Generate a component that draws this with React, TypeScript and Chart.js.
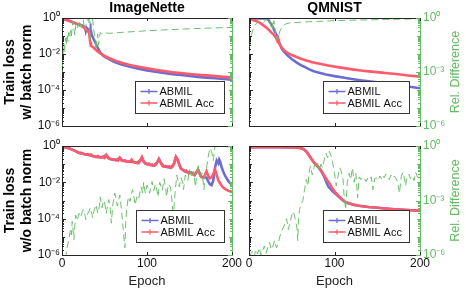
import React, { useEffect, useRef } from "react";
import { Chart, registerables } from "chart.js";
Chart.register(...registerables);

type Pt = [number, number]; // [epoch, log10(value)]

// ---------- DATA (stored as [epoch, log10 value]) ----------
const EPOCH_TICKS = [0, 100, 200];
const LOSS_TICK_EXP = [0, -2, -4, -6];
const REL_TICK_EXP = [0, -3, -6];
const SERIES_NAMES = ["ABMIL", "ABMIL Acc"];
const PANEL_TITLES = ["ImageNette", "QMNIST"];
const ROW_LABELS = [["Train loss", "w/ batch norm"], ["Train loss", "w/o batch norm"]];

// ImageNette, with batch norm
const inBnAbmil: Pt[] = [[0,-0.04],[4,-0.08],[8,-0.15],[12,-0.22],[16,-0.3],[20,-0.36],[23,-0.4],[25,-0.45],[27,-0.52],[28,-0.72],[29,-0.55],[30,-0.6],[32,-0.75],[33,-0.8],[34,-0.72],[35,-0.95],[37,-1.15],[39,-1.35],[41,-1.55],[43,-1.75],[45,-1.92],[48,-2.08],[52,-2.2],[56,-2.3],[60,-2.4],[65,-2.5],[70,-2.58],[80,-2.71],[90,-2.82],[100,-2.91],[110,-2.99],[120,-3.06],[130,-3.12],[140,-3.17],[150,-3.22],[160,-3.27],[170,-3.31],[180,-3.35],[190,-3.39],[200,-3.43]];
const inBnAcc: Pt[] = [[0,-0.04],[4,-0.09],[8,-0.15],[12,-0.22],[16,-0.3],[20,-0.38],[24,-0.48],[27,-0.58],[30,-0.72],[32,-0.82],[33,-1.3],[34,-1.55],[36,-1.6],[38,-1.68],[40,-1.78],[43,-1.9],[46,-2.0],[50,-2.1],[55,-2.22],[60,-2.32],[65,-2.41],[70,-2.49],[80,-2.61],[90,-2.71],[100,-2.8],[110,-2.88],[120,-2.95],[130,-3.01],[140,-3.06],[150,-3.11],[160,-3.15],[170,-3.19],[180,-3.23],[190,-3.27],[200,-3.3]];
const inBnRel: Pt[] = [[0,-3.3],[1,-2.3],[2,-1.4],[3,-1.9],[4,-1.1],[5,-1.5],[6,-0.9],[7,-1.3],[8,-0.8],[9,-1.1],[10,-0.7],[11,-1.0],[12,-0.45],[13,-0.2],[14,-0.6],[15,-0.95],[16,-0.5],[17,-0.3],[18,-0.55],[20,-0.3],[21,-0.15],[22,-0.5],[24,-0.35],[25,-0.1],[26,-0.45],[27,-0.7],[28,-0.4],[30,-0.15],[31,-0.02],[32,-0.35],[33,-1.2],[34,-0.7],[35,-0.3],[36,-0.05],[37,-0.5],[38,-0.9],[39,-1.3],[40,-1.75],[41,-1.2],[42,-0.9],[43,-1.5],[44,-1.1],[45,-0.8],[47,-0.9],[50,-0.82],[55,-0.85],[60,-0.84],[70,-0.8],[80,-0.77],[90,-0.74],[100,-0.71],[120,-0.66],[140,-0.62],[160,-0.58],[180,-0.55],[200,-0.52]];

// QMNIST, with batch norm
const qmBnAbmil: Pt[] = [[0,-0.02],[5,-0.02],[10,-0.02],[15,-0.02],[20,-0.03],[22,-0.06],[24,-0.2],[26,-0.35],[28,-0.52],[30,-0.72],[32,-0.95],[34,-1.2],[36,-1.45],[38,-1.68],[40,-1.82],[43,-1.98],[46,-2.12],[50,-2.28],[55,-2.45],[60,-2.6],[65,-2.72],[70,-2.84],[75,-2.94],[80,-3.02],[90,-3.14],[100,-3.23],[110,-3.31],[120,-3.39],[130,-3.46],[140,-3.52],[150,-3.57],[160,-3.63],[170,-3.69],[180,-3.76],[190,-3.83],[200,-3.9]];
const qmBnAcc: Pt[] = [[0,-0.04],[4,-0.1],[8,-0.17],[12,-0.24],[16,-0.38],[20,-0.52],[24,-0.7],[28,-0.89],[30,-1.0],[32,-1.12],[33,-1.25],[34,-1.15],[35,-1.4],[37,-1.55],[39,-1.69],[42,-1.84],[45,-1.94],[50,-2.06],[55,-2.15],[60,-2.25],[67,-2.36],[74,-2.46],[84,-2.56],[94,-2.65],[104,-2.73],[113,-2.8],[123,-2.87],[133,-2.93],[143,-2.98],[152,-3.02],[162,-3.07],[172,-3.11],[186,-3.19],[200,-3.26]];
const qmBnRel: Pt[] = [[0,-2.2],[1,-1.6],[2,-1.2],[3,-0.9],[5,-0.6],[7,-0.4],[9,-0.3],[11,-0.22],[13,-0.18],[15,-0.15],[17,-0.25],[19,-0.12],[21,-0.1],[23,-0.2],[24,-0.08],[25,-0.3],[26,-0.5],[27,-0.25],[28,-0.6],[29,-0.15],[30,-0.4],[31,-0.9],[32,-1.2],[33,-1.0],[34,-1.15],[35,-0.9],[36,-0.75],[38,-0.55],[40,-0.42],[43,-0.33],[47,-0.28],[55,-0.25],[65,-0.22],[80,-0.19],[100,-0.15],[120,-0.12],[140,-0.1],[160,-0.08],[180,-0.06],[200,-0.04]];

// ImageNette, without batch norm
const inNoAbmil: Pt[] = [[0,-0.05],[4,-0.07],[8,-0.12],[12,-0.2],[16,-0.28],[20,-0.38],[24,-0.42],[28,-0.47],[32,-0.5],[36,-0.55],[40,-0.6],[44,-0.62],[48,-0.6],[52,-0.5],[56,-0.7],[60,-0.75],[64,-0.78],[68,-0.65],[72,-0.82],[76,-0.85],[80,-0.87],[84,-0.88],[88,-0.93],[92,-0.8],[94,-0.62],[96,-0.85],[100,-1.0],[104,-1.05],[108,-1.08],[112,-0.9],[114,-0.72],[116,-0.9],[120,-1.13],[124,-1.16],[128,-1.2],[132,-0.95],[134,-0.6],[136,-0.75],[140,-1.25],[144,-1.38],[148,-1.45],[152,-1.45],[156,-1.6],[160,-1.3],[164,-1.7],[166,-1.75],[168,-1.7],[170,-1.75],[172,-1.95],[174,-2.1],[176,-2.15],[178,-1.9],[180,-1.2],[182,-0.8],[184,-0.95],[185,-0.75],[186,-0.85],[188,-1.2],[190,-1.45],[192,-1.65],[194,-1.8],[196,-1.95],[198,-2.05],[200,-2.13]];
const inNoAcc: Pt[] = [[0,-0.05],[3,-0.07],[5,-0.08],[8,-0.12],[10,-0.16],[12,-0.2],[14,-0.24],[16,-0.28],[18,-0.33],[20,-0.38],[22,-0.36],[24,-0.42],[26,-0.44],[28,-0.47],[30,-0.45],[32,-0.5],[34,-0.47],[36,-0.55],[38,-0.57],[40,-0.6],[42,-0.55],[44,-0.62],[46,-0.64],[48,-0.6],[50,-0.66],[52,-0.5],[54,-0.66],[56,-0.7],[58,-0.72],[60,-0.75],[62,-0.73],[64,-0.78],[66,-0.8],[68,-0.65],[70,-0.8],[72,-0.82],[74,-0.78],[76,-0.85],[78,-0.84],[80,-0.87],[82,-0.75],[84,-0.88],[86,-0.9],[88,-0.93],[90,-0.95],[92,-0.8],[94,-0.62],[96,-0.85],[98,-0.98],[100,-1.0],[102,-0.96],[104,-1.05],[106,-1.02],[108,-1.08],[110,-1.05],[112,-0.9],[114,-0.72],[116,-0.9],[118,-1.1],[120,-1.13],[122,-1.1],[124,-1.16],[126,-1.12],[128,-1.2],[130,-1.15],[132,-0.95],[134,-0.6],[136,-0.75],[138,-1.05],[140,-1.25],[142,-1.3],[144,-1.38],[146,-1.35],[148,-1.45],[150,-1.5],[152,-1.45],[154,-1.55],[156,-1.6],[158,-1.45],[160,-1.3],[162,-1.55],[164,-1.7],[166,-1.75],[168,-1.6],[170,-1.4],[172,-1.65],[174,-1.78],[176,-1.72],[178,-1.55],[180,-1.3],[182,-1.6],[184,-1.9],[186,-2.05],[188,-2.2],[190,-2.3],[193,-2.4],[196,-2.47],[200,-2.53]];
const inNoRel: Pt[] = [[3,-6.2],[5,-5.95],[6,-5.6],[8,-5.15],[10,-4.6],[11,-4.9],[12,-4.15],[14,-5.15],[16,-3.8],[18,-4.1],[20,-3.7],[22,-3.9],[24,-3.6],[25,-3.5],[27,-3.8],[28,-4.05],[30,-3.75],[32,-3.55],[33,-3.4],[35,-3.7],[36,-3.95],[38,-3.5],[40,-3.23],[42,-3.7],[44,-3.3],[45,-2.8],[47,-3.4],[49,-3.0],[50,-3.05],[52,-3.7],[54,-3.2],[55,-2.95],[57,-3.5],[58,-4.25],[60,-3.15],[62,-2.6],[64,-3.0],[65,-3.3],[67,-2.9],[68,-2.7],[70,-3.5],[72,-4.6],[74,-5.6],[75,-4.2],[76,-3.5],[78,-2.8],[80,-3.05],[82,-2.6],[83,-2.4],[85,-2.9],[86,-3.25],[88,-2.8],[90,-2.95],[92,-2.5],[93,-2.25],[95,-2.6],[96,-2.0],[98,-2.6],[100,-2.15],[102,-2.4],[103,-2.6],[105,-2.2],[106,-1.95],[108,-2.45],[110,-2.1],[112,-2.5],[113,-2.8],[115,-2.0],[117,-2.3],[118,-2.45],[120,-1.8],[122,-2.3],[123,-2.8],[125,-2.1],[127,-2.2],[128,-2.4],[130,-3.3],[131,-4.3],[132,-3.2],[133,-2.6],[135,-1.6],[137,-2.0],[138,-2.25],[140,-1.75],[142,-2.0],[143,-2.4],[145,-1.6],[147,-1.8],[148,-1.9],[150,-1.3],[152,-1.6],[153,-1.75],[155,-1.4],[157,-2.25],[158,-1.8],[160,-1.0],[162,-1.7],[163,-1.5],[165,-1.5],[167,-2.4],[168,-1.75],[170,-1.2],[172,-0.6],[174,-0.12],[176,-0.3],[178,-0.8],[179,-0.4],[180,-0.02],[182,0],[185,0],[188,-0.02],[190,0],[193,-0.03],[196,-0.06],[200,-0.1]];

// QMNIST, without batch norm
const qmNoAbmil: Pt[] = [[0,-0.07],[20,-0.07],[40,-0.07],[55,-0.09],[60,-0.11],[63,-0.15],[65,-0.22],[67,-0.3],[69,-0.43],[71,-0.58],[73,-0.72],[75,-0.85],[77,-0.97],[79,-1.07],[81,-1.17],[83,-1.28],[85,-1.43],[87,-1.6],[89,-1.8],[91,-2.05],[93,-2.25],[95,-2.35],[97,-2.45],[99,-2.55],[101,-2.62],[104,-2.75],[107,-2.88],[110,-3.0],[113,-3.1],[118,-3.18],[123,-3.24],[130,-3.3],[140,-3.36],[150,-3.4],[160,-3.44],[170,-3.48],[180,-3.51],[190,-3.54],[200,-3.56]];
const qmNoAcc: Pt[] = [[0,-0.07],[10,-0.07],[20,-0.07],[30,-0.07],[40,-0.07],[50,-0.08],[55,-0.09],[60,-0.11],[63,-0.15],[65,-0.22],[67,-0.29],[69,-0.42],[71,-0.57],[73,-0.7],[75,-0.84],[77,-0.95],[79,-1.05],[81,-1.15],[83,-1.25],[85,-1.4],[87,-1.55],[89,-1.7],[91,-1.85],[93,-2.0],[95,-2.12],[97,-2.3],[99,-2.42],[101,-2.55],[104,-2.7],[107,-2.85],[110,-2.98],[113,-3.08],[118,-3.17],[123,-3.23],[128,-3.28],[133,-3.32],[140,-3.36],[150,-3.4],[160,-3.44],[170,-3.48],[180,-3.51],[190,-3.54],[200,-3.56]];
const qmNoRel: Pt[] = [[0,-6.1],[4,-5.8],[6,-6.1],[8,-5.7],[10,-5.95],[12,-5.6],[14,-6.0],[16,-5.75],[18,-5.5],[20,-5.9],[22,-5.6],[24,-5.3],[26,-5.7],[28,-5.5],[30,-5.2],[32,-5.6],[34,-5.4],[36,-5.0],[38,-4.7],[40,-4.5],[42,-4.3],[44,-4.0],[46,-4.6],[48,-4.2],[50,-3.8],[52,-3.6],[54,-4.0],[56,-4.5],[57,-5.2],[58,-4.0],[59,-3.5],[61,-3.2],[63,-3.0],[65,-2.4],[67,-1.85],[69,-2.2],[70,-1.5],[72,-1.1],[74,-1.6],[76,-1.2],[78,-0.9],[80,-0.84],[82,-1.35],[84,-1.0],[86,-1.2],[88,-0.75],[90,-0.39],[92,-0.65],[94,-0.29],[96,-0.55],[98,-0.95],[100,-1.5],[102,-2.2],[104,-1.7],[106,-1.2],[108,-1.4],[110,-1.85],[111,-2.6],[113,-3.5],[115,-2.0],[117,-1.5],[119,-1.85],[121,-1.2],[123,-2.0],[125,-1.5],[127,-2.85],[129,-1.7],[131,-1.85],[133,-1.7],[135,-1.8],[137,-1.95],[139,-1.75],[141,-1.85],[143,-1.7],[145,-2.4],[147,-1.8],[149,-1.75],[151,-1.9],[153,-1.65],[155,-1.8],[156,-1.6],[158,-1.75],[160,-1.55],[162,-1.7],[164,-1.85],[166,-1.6],[168,-1.75],[170,-1.65],[172,-1.8],[174,-2.0],[176,-2.6],[178,-1.7],[180,-1.45],[182,-1.8],[183,-2.2],[185,-1.7],[187,-1.55],[189,-1.8],[191,-1.65],[193,-1.9],[195,-1.45],[197,-1.7],[199,-1.8],[200,-1.7]];

// ---------- STYLE ----------
const FONT = "'Liberation Sans', Arial, Helvetica, sans-serif";
const BLUE = "#6c6cd2";
const RED = "#ff5a6a";
const GREEN = "#6cbf6c";
const GREEN_AXIS = "#66bb66";
const AXIS = "#262626";

const SUP: Record<string, string> = { "0": "\u2070", "1": "\u00b9", "2": "\u00b2", "3": "\u00b3", "4": "\u2074", "5": "\u2075", "6": "\u2076", "7": "\u2077", "8": "\u2078", "9": "\u2079", "-": "\u207b" };
const pow10Label = (v: number) => "10" + String(Math.round(Math.log10(v))).split("").map((c) => SUP[c] || c).join("");
const toXY = (pts: Pt[]) => pts.map(([e, l]) => ({ x: e, y: Math.pow(10, l) }));

interface Panel {
  left: number; top: number; width: number; height: number;
  area: { l: number; t: number; r: number; b: number };
  title?: string; rowLabel?: string[];
  lossLabels: boolean; relLabels: boolean; epochLabels: boolean;
  legend: { right: number; w: number };
  abmil: Pt[]; acc: Pt[]; rel: Pt[];
}

const PANELS: Panel[] = [
  { left: 0, top: 0, width: 240, height: 136, area: { l: 62, t: 18, r: 232, b: 126 }, title: PANEL_TITLES[0], rowLabel: ROW_LABELS[0], lossLabels: true, relLabels: false, epochLabels: false, legend: { right: 8, w: 89 }, abmil: inBnAbmil, acc: inBnAcc, rel: inBnRel },
  { left: 236, top: 0, width: 230, height: 136, area: { l: 13, t: 18, r: 184, b: 126 }, title: PANEL_TITLES[1], lossLabels: false, relLabels: true, epochLabels: false, legend: { right: 11, w: 86 }, abmil: qmBnAbmil, acc: qmBnAcc, rel: qmBnRel },
  { left: 0, top: 136, width: 244, height: 155, area: { l: 62, t: 10, r: 232, b: 119 }, rowLabel: ROW_LABELS[1], lossLabels: true, relLabels: false, epochLabels: true, legend: { right: 8, w: 88 }, abmil: inNoAbmil, acc: inNoAcc, rel: inNoRel },
  { left: 236, top: 136, width: 230, height: 155, area: { l: 13, t: 10, r: 184, b: 119 }, lossLabels: false, relLabels: true, epochLabels: true, legend: { right: 11, w: 86 }, abmil: qmNoAbmil, acc: qmNoAcc, rel: qmNoRel },
];

function makePlugins(p: Panel) {
  const frame = {
    id: "frame",
    afterDatasetsDraw(chart: any) {
      const { ctx, chartArea: a, scales } = chart;
      ctx.save();
      ctx.lineWidth = 1;
      ctx.strokeStyle = AXIS;
      ctx.beginPath();
      ctx.moveTo(a.left, a.top + 0.5);
      ctx.lineTo(a.right, a.top + 0.5);
      ctx.stroke();
      ctx.beginPath();
      for (const v of EPOCH_TICKS) {
        const px = Math.round(scales.x.getPixelForValue(v)) + 0.5;
        ctx.moveTo(px, a.bottom); ctx.lineTo(px, a.bottom - 3);
        ctx.moveTo(px, a.top); ctx.lineTo(px, a.top + 3);
      }
      ctx.stroke();
      const logTicks = (scale: any, x: number, dir: number, color: string, majors: number[]) => {
        ctx.strokeStyle = color;
        ctx.beginPath();
        for (let n = -6; n <= 0; n++) {
          for (let k = 1; k <= 9; k++) {
            const v = k * Math.pow(10, n);
            if (v > 1.0001) continue;
            const py = Math.round(scale.getPixelForValue(v)) + 0.5;
            const len = k === 1 ? (majors.includes(n) ? 4 : 3) : 2;
            ctx.moveTo(x, py); ctx.lineTo(x + dir * len, py);
          }
        }
        ctx.stroke();
      };
      logTicks(scales.y, a.left, 1, AXIS, LOSS_TICK_EXP);
      logTicks(scales.y2, a.right, -1, GREEN_AXIS, REL_TICK_EXP);
      ctx.restore();
    },
    afterDraw(chart: any) {
      const { ctx, chartArea: a } = chart;
      ctx.save();
      const h = 32;
      const bx = Math.round(a.right - p.legend.right - p.legend.w) + 0.5;
      const by = Math.round(a.bottom - 13 - h) + 0.5;
      ctx.fillStyle = "#ffffff";
      ctx.fillRect(bx, by, p.legend.w, h);
      ctx.strokeStyle = "#333333";
      ctx.lineWidth = 1;
      ctx.strokeRect(bx, by, p.legend.w, h);
      const entries = [
        { text: SERIES_NAMES[0], color: BLUE },
        { text: SERIES_NAMES[1], color: RED },
      ];
      entries.forEach((e, i) => {
        const cy = by + 10 + i * 11.5;
        ctx.strokeStyle = e.color;
        ctx.lineWidth = 1.3;
        ctx.beginPath();
        ctx.moveTo(bx + 5, cy); ctx.lineTo(bx + 22, cy);
        const mx = bx + 13.5;
        ctx.moveTo(mx - 2.5, cy); ctx.lineTo(mx + 2.5, cy);
        ctx.moveTo(mx, cy - 2.5); ctx.lineTo(mx, cy + 2.5);
        ctx.stroke();
        ctx.fillStyle = "#111111";
        ctx.font = `11px ${FONT}`;
        ctx.textBaseline = "middle";
        ctx.textAlign = "left";
        ctx.fillText(e.text, bx + 24, cy + 0.5);
      });
      if (p.relLabels) {
        ctx.translate(p.width - 10, (a.top + a.bottom) / 2);
        ctx.rotate(-Math.PI / 2);
        ctx.fillStyle = GREEN_AXIS;
        ctx.font = `12.5px ${FONT}`;
        ctx.textAlign = "center";
        ctx.textBaseline = "middle";
        ctx.fillText("Rel. Difference", 0, 0);
      }
      ctx.restore();
    },
  };
  return [frame];
}

function PanelChart({ p }: { p: Panel }) {
  const ref = useRef<HTMLCanvasElement | null>(null);
  useEffect(() => {
    if (!ref.current) return;
    const chart = new Chart(ref.current, {
      type: "line",
      data: {
        datasets: [
          { label: "Rel. Difference", data: toXY(p.rel), yAxisID: "y2", borderColor: GREEN, borderWidth: 1, borderDash: [7, 4], pointRadius: 0, order: 0, tension: 0 },
          { label: SERIES_NAMES[1], data: toXY(p.acc), yAxisID: "y", borderColor: RED, borderWidth: 2.6, pointRadius: 0, order: 1, tension: 0 },
          { label: SERIES_NAMES[0], data: toXY(p.abmil), yAxisID: "y", borderColor: BLUE, borderWidth: 2.6, pointRadius: 0, order: 2, tension: 0 },
        ],
      },
      options: {
        animation: false,
        responsive: false,
        maintainAspectRatio: false,
        events: [],
        layout: { padding: { top: p.title ? 0 : p.area.t, left: 0, right: 0, bottom: 0 } },
        plugins: {
          legend: { display: false },
          tooltip: { enabled: false },
          title: {
            display: !!p.title,
            text: p.title || "",
            fullSize: false,
            color: "#000",
            font: { family: FONT, size: 14, weight: "bold", lineHeight: 1.2 },
            padding: { top: 0, bottom: p.area.t - 16.8 },
          },
        },
        scales: {
          x: {
            type: "linear", position: "bottom", min: 0, max: 200,
            grid: { display: false, drawTicks: false },
            border: { display: true, color: AXIS, width: 1 },
            afterBuildTicks: (s: any) => { s.ticks = EPOCH_TICKS.map((v) => ({ value: v })); },
            ticks: { display: p.epochLabels, color: "#111", padding: 1, maxRotation: 0, autoSkip: false, font: { family: FONT, size: 12, lineHeight: 1.2 } },
            title: { display: p.epochLabels, text: "Epoch", color: "#222", font: { family: FONT, size: 13, lineHeight: 1.2 }, padding: { top: 0, bottom: 2 } },
            afterFit: (s: any) => { s.height = p.height - p.area.b; s.paddingLeft = 0; s.paddingRight = 0; },
          },
          y: {
            type: "logarithmic", position: "left", min: 1e-6, max: 1,
            grid: { display: false, drawTicks: false },
            border: { display: true, color: AXIS, width: 1 },
            afterBuildTicks: (s: any) => { s.ticks = LOSS_TICK_EXP.map((n) => ({ value: Math.pow(10, n) })); },
            ticks: { display: p.lossLabels, color: "#111", padding: 2, autoSkip: false, font: { family: FONT, size: 12 }, callback: (v: any) => pow10Label(Number(v)) },
            title: { display: !!p.rowLabel, text: p.rowLabel || "", color: "#000", font: { family: FONT, size: 14, weight: "bold", lineHeight: 1.2 }, padding: { top: 2, bottom: 0 } },
            afterFit: (s: any) => { s.width = p.area.l; s.paddingTop = 0; s.paddingBottom = 0; },
          },
          y2: {
            type: "logarithmic", position: "right", min: 1e-6, max: 1,
            grid: { display: false, drawTicks: false },
            border: { display: true, color: GREEN_AXIS, width: 1 },
            afterBuildTicks: (s: any) => { s.ticks = REL_TICK_EXP.map((n) => ({ value: Math.pow(10, n) })); },
            ticks: { display: p.relLabels, color: GREEN_AXIS, padding: 3, autoSkip: false, font: { family: FONT, size: 12 }, callback: (v: any) => pow10Label(Number(v)) },
            afterFit: (s: any) => { s.width = p.width - p.area.r; s.paddingTop = 0; s.paddingBottom = 0; },
          },
        },
      } as any,
      plugins: makePlugins(p) as any,
    });
    return () => chart.destroy();
  }, [p]);
  return (
    <canvas
      ref={ref}
      width={p.width}
      height={p.height}
      style={{ position: "absolute", left: p.left, top: p.top, width: p.width, height: p.height }}
    />
  );
}

export default function App() {
  return (
    <div style={{ position: "fixed", left: 0, top: 0, width: 466, height: 291, background: "#fff", overflow: "hidden" }}>
      {PANELS.map((p, i) => (
        <PanelChart key={i} p={p} />
      ))}
    </div>
  );
}
